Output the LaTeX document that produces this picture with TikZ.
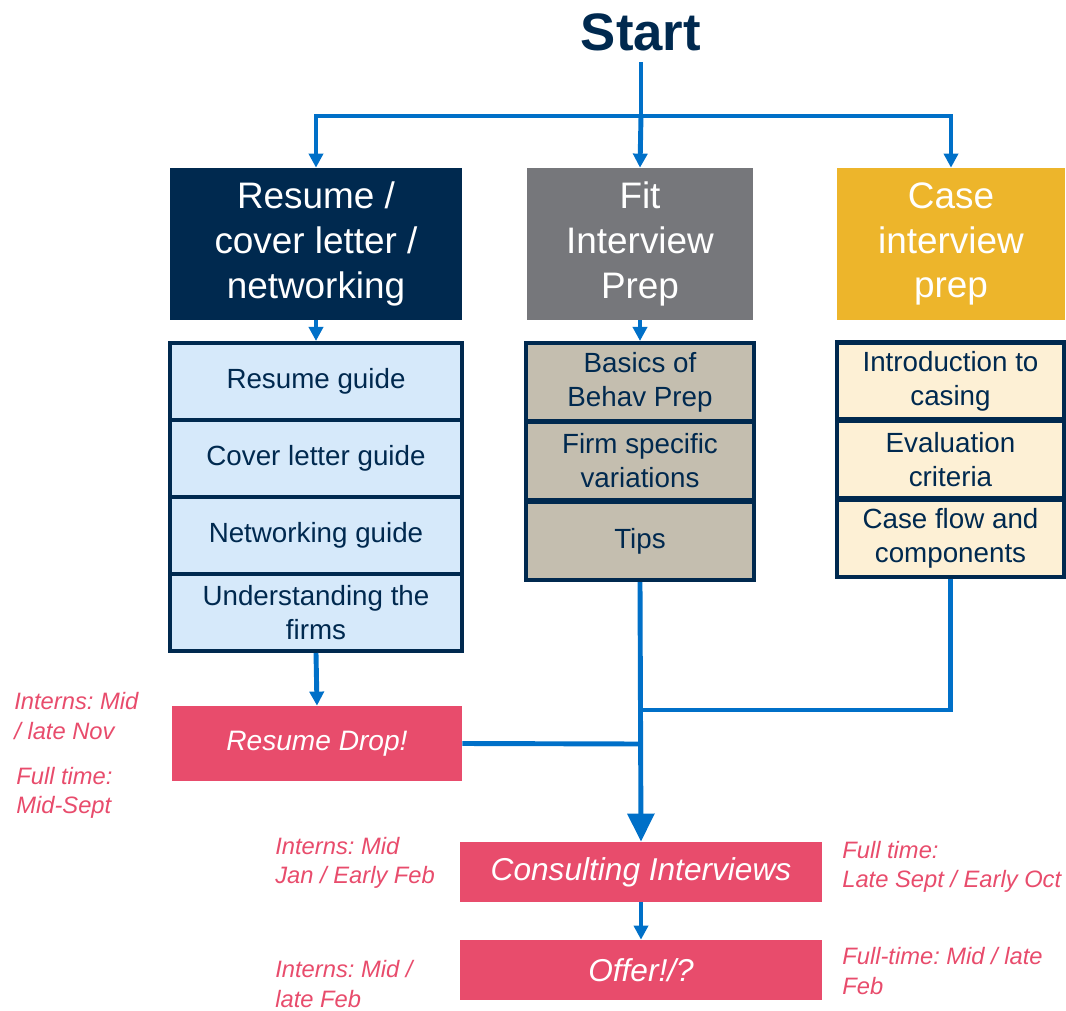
\documentclass[tikz,border=0pt]{standalone}
\usepackage{fontspec}
\setmainfont{Liberation Sans}
\frenchspacing
\usetikzlibrary{arrows.meta}
\definecolor{navy}{RGB}{0,41,79}
\definecolor{fitgray}{RGB}{118,119,123}
\definecolor{casegold}{RGB}{237,181,43}
\definecolor{lightblue}{RGB}{214,233,250}
\definecolor{tan}{RGB}{196,190,175}
\definecolor{cream}{RGB}{253,240,213}
\definecolor{droppink}{RGB}{232,76,108}
\definecolor{flowblue}{RGB}{0,112,200}
\begin{document}
\begin{tikzpicture}[x=0.02cm, y=-0.02cm,
    header/.style={rectangle, text=white, align=center, minimum height=3.04cm, font=\fontsize{21}{25.5}\selectfont},
    topic/.style={rectangle, draw=navy, line width=2.3pt, text=navy, align=center, font=\fontsize{15.8}{19.3}\selectfont},
    event/.style={rectangle, fill=droppink, text=white, font=\itshape\fontsize{18}{22}\selectfont},
    datelabel/.style={anchor=west, inner sep=0pt, align=left, text=droppink, font=\itshape\fontsize{13.5}{16.7}\selectfont},
    flow/.style={draw=flowblue, line width=2.8pt},
    arr/.style={flow, -{Triangle[length=8pt, width=8pt]}},
    bigarr/.style={flow, -{Triangle[length=16pt, width=15pt]}}]
    \useasboundingbox (0,0) rectangle (1066,1011);

    \node[inner sep=0pt, text=navy, font=\bfseries\fontsize{30}{36}\selectfont] (start) at (641,32) {Start};

    \node[header, fill=navy, minimum width=5.84cm] (resume) at (316,244) {Resume /\\cover letter /\\networking};
    \node[header, fill=fitgray, minimum width=4.52cm] (fit) at (640,244) {Fit\\Interview\\Prep};
    \node[header, fill=casegold, minimum width=4.56cm] (case) at (951,244) {Case\\interview\\prep};

    \node[topic, fill=lightblue, minimum width=5.84cm, minimum height=1.54cm] (res1) at (316,381.5) {Resume guide};
    \node[topic, fill=lightblue, minimum width=5.84cm, minimum height=1.54cm] (res2) at (316,458.5) {Cover letter guide};
    \node[topic, fill=lightblue, minimum width=5.84cm, minimum height=1.54cm] (res3) at (316,535.5) {Networking guide};
    \node[topic, fill=lightblue, minimum width=5.84cm, minimum height=1.54cm] (res4) at (316,612.5) {Understanding the\\firms};

    \node[topic, fill=tan, minimum width=4.56cm, minimum height=1.56cm] (fit1) at (640,382) {Basics of\\Behav Prep};
    \node[topic, fill=tan, minimum width=4.56cm, minimum height=1.56cm] (fit2) at (640,461) {Firm specific\\variations};
    \node[topic, fill=tan, minimum width=4.56cm, minimum height=1.56cm] (fit3) at (640,541) {Tips};

    \node[topic, fill=cream, minimum width=4.54cm, minimum height=1.54cm] (case1) at (950.5,381) {Introduction to\\casing};
    \node[topic, fill=cream, minimum width=4.54cm, minimum height=1.54cm] (case2) at (950.5,459.5) {Evaluation\\criteria};
    \node[topic, fill=cream, minimum width=4.54cm, minimum height=1.54cm] (case3) at (950.5,538.5) {Case flow and\\components};

    \node[event, minimum width=5.8cm, minimum height=1.5cm, font=\itshape\fontsize{16}{20}\selectfont] (drop) at (317,743.5) {Resume Drop!};
    \node[event, minimum width=7.24cm, minimum height=1.2cm] (interview) at (641,872) {Consulting Interviews};
    \node[event, minimum width=7.24cm, minimum height=1.2cm] (offer) at (641,970) {Offer!/?};

    \node[datelabel] (dropintern) at (14,716) {Interns: Mid\\/ late Nov};
    \node[datelabel] (dropfull) at (16,793) {Full time:\\Mid-Sept};
    \node[datelabel] (intintern) at (275,863) {Interns: Mid\\Jan / Early Feb};
    \node[datelabel] (intfull) at (842,867) {Full time:\\Late Sept / Early Oct};
    \node[datelabel] (offintern) at (275,984) {Interns: Mid /\\late Feb};
    \node[datelabel] (offfull) at (842,971) {Full-time: Mid / late\\Feb};

    \coordinate (split) at (641,116);
    \coordinate (casejoin) at (641,710);
    \coordinate (dropjoin) at (641,744);

    \draw[flow] (641,62) -- (split);
    \draw[arr] (split) -- (fit.north);
    \draw[arr] (split) -| (resume.north);
    \draw[arr] (split) -| (case.north);
    \draw[arr] (resume.south) -- (res1.north);
    \draw[arr] (fit.south) -- (fit1.north);
    \draw[arr] (res4.south) -- (drop.north);
    \draw[bigarr] (fit3.south) -- (interview.north);
    \draw[flow] (case3.south) |- (casejoin);
    \draw[flow] (drop.east) -- (dropjoin);
    \draw[arr] (interview.south) -- (offer.north);
\end{tikzpicture}
\end{document}
